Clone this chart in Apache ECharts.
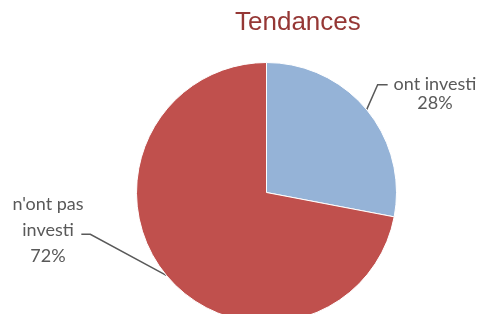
<!DOCTYPE html>
<html>
<head>
<meta charset="utf-8">
<script src="https://cdn.jsdelivr.net/npm/echarts@6/dist/echarts.min.js"></script>
<style>
  html, body { margin: 0; padding: 0; background: #fff; }
  #container { width: 481px; height: 314px; }
</style>
</head>
<body>
<div id="container"></div>
<script>
var categories = ['ont investi', "n'ont pas investi"];
var values = [28, 72];
var colors = ['#95B3D7', '#C0504D'];

window.onload = function () {
    var dom = document.getElementById('container');
    var myChart = echarts.init(dom);

    var data = categories.map(function (name, i) {
        return {
            name: name,
            value: values[i],
            itemStyle: { color: colors[i] },
            label: { lineHeight: i === 0 ? 19 : 26 }
        };
    });

    var option = {
        animation: false,
        title: {
            text: 'Tendances',
            left: 230,
            top: 5,
            textStyle: {
                color: '#953735',
                fontFamily: 'Liberation Sans',
                fontSize: 26,
                fontWeight: 'normal'
            }
        },
        series: [{
            type: 'pie',
            center: [266.5, 192.5],
            radius: 130,
            startAngle: 90,
            clockwise: true,
            data: data,
            itemStyle: { borderColor: '#fff', borderWidth: 1 },
            label: {
                show: true,
                position: 'outside',
                color: '#595959',
                fontFamily: 'Lato',
                fontSize: 18,
                align: 'center',
                overflow: 'none',
                width: 120,
                formatter: function (p) {
                    return p.name.replace(' pas ', ' pas\n') + '\n' + p.value + '%';
                }
            },
            labelLine: {
                show: true,
                lineStyle: { color: '#595959', width: 1.5 }
            },
            labelLayout: function (p) {
                var s = p.labelLinePoints ? p.labelLinePoints[0] : [0, 0];
                if (p.dataIndex === 0) {
                    var e0 = [s[0] + 11, s[1] - 25];
                    return {
                        x: 435, y: 94, align: 'center', verticalAlign: 'middle',
                        labelLinePoints: [s, e0, [e0[0] + 10, e0[1]]]
                    };
                }
                var e1 = [s[0] - 76, s[1] - 41];
                return {
                    x: 48, y: 230, align: 'center', verticalAlign: 'middle',
                    labelLinePoints: [s, e1, [e1[0] - 9, e1[1]]]
                };
            }
        }]
    };
    myChart.setOption(option);
};
</script>
</body>
</html>
